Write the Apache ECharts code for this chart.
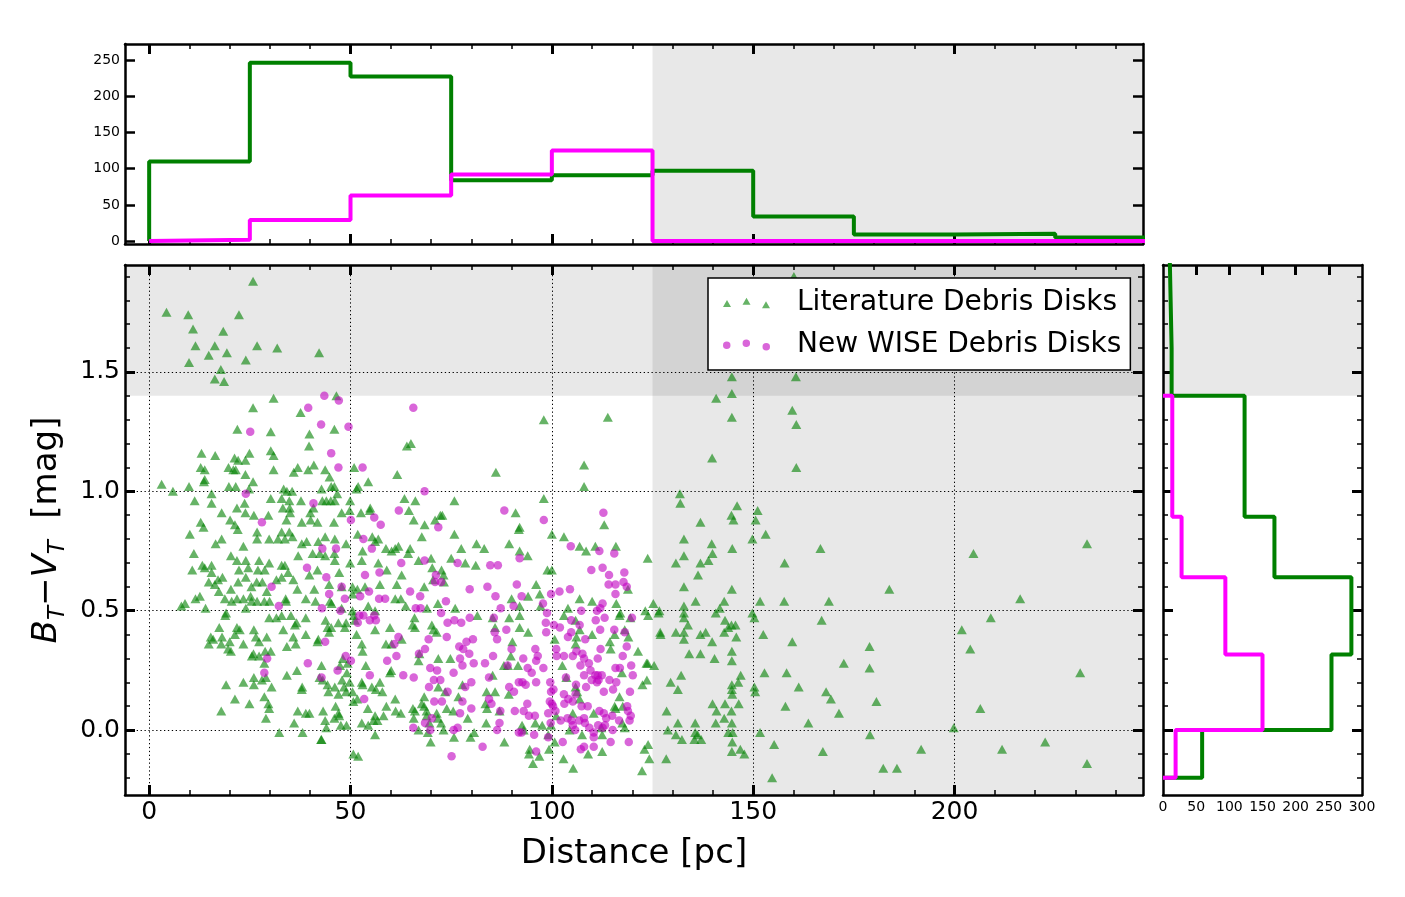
<!DOCTYPE html>
<html>
<head>
<meta charset="utf-8">
<title>Debris disks: B_T - V_T vs distance</title>
<script src="https://cdn.jsdelivr.net/npm/echarts@6.0.0/dist/echarts.min.js"></script>
<style>
html, body { margin: 0; padding: 0; background: #fff; }
#chart { width: 1405px; height: 897px; }
</style>
</head>
<body>
<div id="chart"></div>
<script>
// literature debris disks: [distance pc, B_T - V_T mag]
var litPoints = [
[25.8,1.88],[4.3,1.75],[9.7,1.74],[22.3,1.74],[10.9,1.68],[18.4,1.67],[11.5,1.61],[16.3,1.61],[26.8,1.61],[31.8,1.60],[19.3,1.58],[42.2,1.58],[14.8,1.57],[24.0,1.55],[9.9,1.54],[17.8,1.51],[16.3,1.47],[18.6,1.46],[46.5,1.40],[30.9,1.39],[25.8,1.35],[37.6,1.33],[21.9,1.26],[30.2,1.25],[39.8,1.24],[46.0,1.26],[39.7,1.19],[65.0,1.20],[64.0,1.19],[13.0,1.16],[16.4,1.15],[30.2,1.17],[30.9,1.15],[24.9,1.16],[21.2,1.14],[22.1,1.13],[23.9,1.13],[12.8,1.10],[13.8,1.09],[19.7,1.10],[20.9,1.09],[21.5,1.09],[30.9,1.09],[36.9,1.10],[35.9,1.08],[39.5,1.09],[40.9,1.11],[43.7,1.09],[44.8,1.06],[50.9,1.10],[61.6,1.07],[23.9,1.07],[13.8,1.05],[13.6,1.04],[25.8,1.04],[54.4,1.04],[51.9,1.02],[3.1,1.03],[5.9,1.00],[9.9,1.02],[19.8,1.02],[21.5,1.02],[24.8,1.01],[33.4,1.01],[34.2,1.00],[35.5,1.00],[42.8,1.01],[45.2,1.02],[46.0,1.02],[46.7,0.99],[51.5,1.01],[15.5,0.99],[11.3,0.96],[15.5,0.95],[23.7,0.95],[30.2,0.97],[32.9,0.97],[34.8,0.96],[37.7,0.96],[43.0,0.96],[44.0,0.96],[45.1,0.96],[46.1,0.96],[49.9,0.96],[63.4,0.97],[66.1,0.96],[75.8,0.96],[21.8,0.93],[33.2,0.93],[34.9,0.93],[40.8,0.93],[54.9,0.93],[64.5,0.92],[18.0,0.91],[23.9,0.91],[26.0,0.90],[29.6,0.90],[35.0,0.91],[40.0,0.91],[47.8,0.91],[49.8,0.92],[52.6,0.91],[54.8,0.92],[12.8,0.87],[20.1,0.88],[34.1,0.88],[37.9,0.87],[40.1,0.88],[41.8,0.87],[45.9,0.87],[65.7,0.88],[68.4,0.86],[72.3,0.90],[72.8,0.90],[71.0,0.88],[21.3,0.86],[13.5,0.85],
[10.1,0.82],[22.0,0.84],[26.8,0.83],[26.8,0.80],[32.9,0.83],[34.8,0.83],[35.6,0.81],[32.0,0.80],[29.8,0.80],[33.7,0.80],[16.5,0.78],[18.0,0.80],[37.9,0.78],[39.1,0.79],[42.0,0.79],[43.7,0.81],[46.1,0.80],[48.9,0.78],[51.8,0.82],[55.4,0.81],[56.9,0.80],[56.1,0.79],[61.9,0.77],[61.1,0.76],[60.2,0.75],[64.8,0.76],[67.7,0.81],[75.8,0.82],[77.5,0.76],[11.1,0.74],[23.4,0.77],[40.6,0.74],[42.4,0.74],[46.0,0.74],[37.0,0.73],[43.7,0.73],[46.1,0.71],[53.0,0.75],[58.8,0.76],[64.3,0.74],[66.9,0.71],[70.0,0.72],[75.0,0.72],[20.3,0.73],[21.8,0.71],[24.0,0.71],[27.3,0.71],[28.7,0.67],[27.0,0.67],[29.8,0.70],[32.9,0.69],[33.7,0.69],[13.2,0.69],[15.5,0.69],[13.8,0.68],[10.7,0.67],[15.5,0.66],[24.6,0.68],[22.3,0.67],[34.5,0.66],[39.8,0.65],[41.8,0.67],[47.2,0.66],[49.9,0.70],[52.8,0.71],[56.9,0.70],[59.0,0.67],[62.7,0.65],[70.3,0.68],[72.6,0.67],[73.1,0.65],[78.5,0.70],
[14.8,0.62],[17.1,0.63],[18.2,0.64],[16.3,0.61],[17.3,0.58],[20.3,0.59],[22.1,0.62],[24.0,0.64],[25.4,0.60],[26.7,0.62],[28.1,0.62],[31.6,0.63],[29.2,0.58],[32.9,0.64],[35.8,0.63],[36.8,0.59],[41.0,0.59],[44.7,0.61],[47.8,0.60],[50.5,0.60],[51.7,0.59],[53.6,0.60],[57.3,0.61],[61.5,0.61],[68.3,0.60],[70.5,0.63],[73.2,0.62],
[8.0,0.52],[8.9,0.53],[11.5,0.55],[12.6,0.56],[14.0,0.51],[18.8,0.55],[20.5,0.54],[21.8,0.55],[23.4,0.55],[25.2,0.56],[26.8,0.54],[25.4,0.54],[28.6,0.54],[29.9,0.54],[33.9,0.55],[34.0,0.54],[24.0,0.51],[19.1,0.49],[18.9,0.48],[38.9,0.55],[41.3,0.54],[44.9,0.54],[45.3,0.53],[47.8,0.51],[50.5,0.57],[50.5,0.50],[54.4,0.52],[56.1,0.50],[61.1,0.55],[62.5,0.55],[63.7,0.52],[69.0,0.51],[71.7,0.53],[76.0,0.51],
[29.8,0.47],[31.6,0.47],[32.9,0.48],[35.2,0.48],[36.2,0.44],[38.9,0.47],[33.3,0.42],[36.6,0.45],[17.4,0.43],[21.8,0.43],[22.5,0.42],[26.0,0.42],[21.3,0.40],[15.3,0.39],[15.9,0.38],[14.8,0.36],[18.1,0.39],[17.9,0.36],[20.0,0.37],[19.6,0.34],[20.3,0.33],[23.4,0.36],[26.5,0.39],[27.3,0.37],[29.2,0.39],[34.2,0.35],[36.4,0.36],[35.8,0.39],[38.9,0.40],[41.8,0.37],[42.0,0.38],[43.8,0.46],[44.3,0.43],[44.7,0.41],[45.2,0.43],[47.0,0.45],[48.6,0.43],[48.9,0.45],[51.1,0.46],[50.8,0.48],[51.5,0.40],[52.8,0.36],[53.0,0.33],[56.1,0.42],[59.8,0.43],[58.8,0.36],[60.2,0.36],[62.7,0.38],[65.9,0.47],[66.0,0.43],[65.4,0.44],[70.2,0.44],[70.6,0.42],[71.4,0.41],[71.8,0.30],[74.8,0.30],[66.9,0.29],[67.1,0.32],
[25.5,0.31],[25.9,0.32],[27.3,0.31],[28.6,0.28],[28.8,0.33],[30.2,0.33],[19.1,0.19],[21.3,0.13],[17.9,0.08],[24.9,0.11],[23.4,0.20],[26.0,0.22],[26.0,0.19],[28.0,0.21],[30.4,0.18],[29.0,0.22],[28.6,0.14],[29.6,0.11],[29.8,0.09],[29.0,0.05],[34.2,0.23],[36.7,0.25],[38.0,0.18],[37.9,0.17],[36.9,0.08],[38.9,0.07],[39.8,0.07],[36.0,0.03],[32.3,-0.01],[38.1,-0.01],[42.7,-0.04],[42.8,-0.04],[43.2,0.08],[42.8,0.27],[42.3,0.22],[43.1,0.21],[44.3,0.19],[44.5,0.16],[46.1,0.18],[47.0,0.15],[47.9,0.21],[48.4,0.18],[48.9,0.16],[49.1,0.24],[49.8,0.20],[47.4,0.27],[48.1,0.30],[49.3,0.28],[46.3,0.10],[47.0,0.07],[47.2,0.06],[43.7,0.04],[44.0,0.01],[46.0,0.05],[47.6,0.02],[49.0,0.02],[50.5,0.16],[50.7,0.12],[51.7,0.13],[52.8,0.20],[53.0,0.19],[53.8,0.27],[55.3,0.18],[57.3,0.20],[57.9,0.16],[56.3,0.17],[54.3,0.09],[56.1,0.06],[56.7,0.04],[55.7,0.04],[58.2,0.06],[52.8,0.03],[54.4,0.02],[50.7,-0.10],[51.9,-0.11],[56.1,-0.02],[58.9,0.10],[61.1,0.13],[61.2,0.08],[62.5,0.07],[60.1,0.25],[59.8,0.24],[65.5,0.09],[66.0,0.08],[65.7,0.05],[67.7,0.11],[68.3,0.10],[68.9,0.08],[68.9,0.06],[69.6,0.03],[71.4,0.07],[71.7,0.05],[72.5,0.03],[73.9,0.09],[75.5,0.08],[69.2,-0.01],[66.9,0.00],[69.9,-0.05],[73.1,0.00],[75.7,-0.03],[71.8,0.18],[73.5,0.16],[76.8,0.14],[68.3,0.14],[77.8,0.19],
[98.0,1.30],[113.9,1.31],[86.1,1.08],[108.0,1.11],[108.0,1.02],[98.0,0.97],[91.0,0.91],[92.0,0.85],[113.0,0.86],[131.8,0.99],[131.9,0.95],[146.0,0.94],[144.6,0.90],[145.1,0.88],[151.1,0.92],[150.6,0.88],[136.9,0.87],[139.8,1.14],[144.7,1.48],[144.7,1.41],[140.8,1.39],[144.7,1.31],[159.7,1.34],[160.7,1.28],[160.6,1.48],[160.7,1.10],[160.1,1.90],
[91.8,0.84],[100.0,0.82],[103.0,0.81],[81.3,0.78],[83.2,0.76],[89.4,0.78],[92.0,0.75],[94.0,0.73],[106.9,0.77],[108.5,0.75],[110.8,0.77],[115.9,0.77],[123.8,0.72],[81.1,0.69],[98.9,0.67],[100.0,0.67],[96.1,0.61],[94.1,0.56],[97.0,0.57],[90.0,0.55],[92.0,0.52],[97.2,0.52],[106.9,0.55],[110.0,0.54],[116.0,0.53],[118.9,0.59],[81.5,0.48],[85.3,0.47],[89.4,0.47],[92.0,0.48],[85.9,0.43],[92.0,0.43],[94.1,0.41],[103.0,0.48],[104.0,0.51],[105.9,0.46],[106.9,0.42],[106.1,0.39],[110.0,0.40],[105.9,0.36],[100.7,0.38],[114.4,0.37],[115.6,0.40],[116.8,0.48],[119.0,0.39],[117.0,0.49],[118.1,0.42],[114.6,0.34],[121.4,0.33],[123.8,0.28],[125.4,0.27],[119.5,0.47],[123.2,0.50],[123.9,0.48],[125.2,0.53],[90.2,0.37],[89.8,0.31],[88.1,0.27],[89.1,0.27],[91.6,0.27],[85.3,0.23],[83.8,0.16],[85.9,0.16],[89.3,0.15],[83.5,0.11],[83.9,0.09],[87.0,0.08],[83.7,0.03],[79.1,0.05],[80.7,-0.01],[79.8,-0.03],[88.2,-0.05],[92.6,0.02],[93.0,0.00],[95.9,0.03],[97.6,0.02],[99.1,-0.02],[99.3,-0.08],[94.5,-0.08],[94.3,-0.10],[96.9,-0.11],[95.3,-0.14],[102.9,-0.12],[105.3,-0.16],[109.0,-0.10],[112.5,-0.09],[102.6,0.27],[103.6,0.22],[105.9,0.18],[106.3,0.16],[106.9,0.13],[110.4,0.07],[112.3,0.01],[112.5,-0.02],[115.6,0.10],[115.8,0.09],[116.8,0.14],[117.4,0.24],[117.6,0.10],[118.1,0.01],[117.5,0.03],[104.4,0.00],[105.2,0.07],[107.5,-0.02],[101.1,0.06],[99.8,0.02],[100.7,-0.05],[123.0,-0.08],[123.9,-0.06],[124.2,-0.12],[122.4,-0.17],[123.5,0.28],[122.5,0.19],[123.6,0.21],
[132.8,0.80],[139.7,0.78],[139.9,0.74],[144.8,0.76],[149.8,0.80],[153.1,0.82],[130.8,0.70],[132.8,0.73],[136.9,0.70],[138.9,0.71],[136.3,0.65],[157.8,0.70],[132.8,0.60],[144.7,0.59],[135.7,0.54],[142.8,0.54],[151.7,0.54],[157.7,0.54],[132.8,0.52],[126.7,0.50],[126.5,0.49],[132.8,0.49],[141.7,0.51],[140.7,0.49],[149.8,0.49],[150.3,0.47],[132.8,0.47],[133.8,0.44],[143.0,0.46],[143.8,0.43],[144.6,0.44],[145.6,0.44],[126.9,0.41],[127.0,0.40],[130.8,0.41],[132.8,0.41],[132.8,0.38],[136.9,0.40],[138.2,0.41],[139.8,0.37],[142.8,0.41],[145.8,0.39],[152.5,0.40],[159.7,0.37],[134.1,0.32],[136.9,0.32],[140.4,0.30],[144.7,0.33],[144.7,0.29],[132.1,0.23],[129.5,0.20],[131.3,0.17],[146.9,0.23],[146.3,0.20],[144.7,0.19],[144.7,0.17],[144.8,0.15],[150.3,0.18],[150.5,0.16],[152.8,0.24],[158.3,0.24],[161.3,0.18],[139.9,0.11],[140.9,0.08],[143.0,0.11],[144.6,0.08],[146.4,0.11],[142.8,0.05],[140.7,0.03],[144.7,0.03],[158.0,0.10],[128.5,0.08],[135.6,0.03],[131.3,0.03],[128.8,0.00],[130.8,-0.02],[132.3,-0.04],[135.6,-0.01],[136.2,-0.02],[137.1,-0.04],[135.4,-0.04],[143.8,-0.01],[144.9,-0.01],[151.7,-0.01],[144.8,-0.05],[144.7,-0.09],[146.8,-0.08],[147.8,-0.10],[155.2,-0.06],[128.4,-0.12],[154.7,-0.20],
[166.7,0.76],[204.7,0.74],[232.9,0.78],[183.8,0.59],[168.8,0.54],[216.3,0.55],[167.0,0.46],[209.0,0.47],[201.8,0.42],[203.9,0.34],[178.9,0.35],[172.5,0.28],[178.9,0.26],[231.2,0.24],[168.1,0.16],[169.3,0.13],[180.6,0.12],[171.3,0.07],[206.4,0.09],[163.7,0.03],[199.8,0.01],[179.0,-0.02],[167.3,-0.09],[191.7,-0.08],[211.8,-0.08],[222.5,-0.05],[182.3,-0.16],[185.7,-0.16],[232.9,-0.14]
];

// new WISE debris disks: [distance pc, B_T - V_T mag]
var wisePoints = [
[43.5,1.40],[47.1,1.38],[39.5,1.35],[65.6,1.35],[25.1,1.25],[42.7,1.28],[49.5,1.27],[45.2,1.16],[47.0,1.10],[53.0,1.10],[68.4,1.00],[24.0,0.99],[40.8,0.95],[28.0,0.87],[50.1,0.88],[55.9,0.89],[57.5,0.86],[62.0,0.92],[71.8,0.85],
[53.2,0.80],[55.3,0.76],[43.0,0.76],[46.4,0.76],[62.6,0.70],[68.4,0.71],[76.6,0.70],[39.2,0.68],[44.0,0.64],[53.6,0.65],[57.2,0.66],[71.2,0.65],[71.0,0.62],[72.5,0.62],[30.4,0.60],[47.8,0.60],[44.7,0.57],[54.6,0.58],[52.4,0.56],[48.6,0.55],[57.1,0.55],[58.6,0.55],[64.8,0.58],[67.3,0.56],[73.7,0.54],[32.2,0.52],[42.9,0.51],[47.5,0.50],[66.2,0.51],[67.4,0.51],[72.5,0.49],[52.2,0.48],[53.2,0.48],[51.8,0.45],[54.8,0.46],[55.9,0.48],[56.3,0.46],[74.1,0.45],[75.8,0.46],[77.5,0.45],[61.9,0.39],[60.9,0.36],[73.9,0.39],[69.4,0.38],[43.7,0.37],[77.0,0.35],[78.0,0.34],[68.5,0.34],[67.0,0.32],[29.3,0.30],[48.8,0.31],[50.1,0.29],[61.4,0.31],[59.1,0.29],[77.2,0.30],[77.8,0.27],[39.4,0.28],[69.8,0.26],[71.5,0.25],[28.6,0.24],[46.8,0.25],[42.8,0.22],[54.8,0.23],[63.1,0.23],[65.7,0.22],[70.7,0.21],[72.3,0.21],[75.6,0.24],[69.5,0.18],[74.1,0.16],[53.4,0.13],[70.8,0.12],[72.7,0.12],[77.8,0.12],[70.2,0.05],[77.2,0.07],[68.5,0.03],[65.6,0.01],[69.8,0.00],[75.6,0.00],[76.6,0.01],[75.1,-0.11],
[88.2,0.92],[98.0,0.88],[112.8,0.91],
[104.7,0.77],[111.8,0.75],[115.5,0.74],[92.0,0.72],[84.7,0.69],[86.6,0.69],[109.8,0.67],[112.6,0.68],[114.2,0.65],[118.0,0.66],[91.3,0.61],[84.0,0.60],[79.6,0.59],[114.1,0.61],[115.8,0.61],[117.8,0.62],[118.6,0.60],[115.8,0.57],[104.5,0.59],[101.9,0.58],[99.8,0.57],[86.0,0.56],[92.5,0.56],[90.5,0.52],[97.8,0.53],[87.3,0.51],[79.6,0.47],[98.8,0.49],[107.3,0.50],[111.2,0.50],[112.0,0.51],[112.6,0.53],[85.6,0.47],[88.7,0.42],[85.8,0.41],[86.4,0.38],[119.9,0.47],[113.1,0.47],[110.9,0.46],[98.5,0.45],[100.5,0.44],[102.0,0.43],[104.8,0.46],[106.9,0.44],[104.8,0.41],[112.0,0.42],[115.5,0.42],[118.1,0.41],[98.6,0.41],[104.0,0.39],[108.3,0.38],[80.4,0.38],[78.8,0.37],[79.5,0.32],[80.6,0.28],[90.0,0.34],[95.9,0.34],[96.5,0.31],[101.1,0.34],[101.2,0.31],[103.0,0.31],[105.2,0.31],[106.1,0.33],[107.6,0.32],[108.0,0.30],[111.4,0.30],[112.1,0.34],[118.6,0.35],[117.6,0.31],[92.9,0.30],[96.1,0.29],[85.4,0.31],[83.4,0.28],[89.0,0.27],[94.0,0.26],[95.0,0.24],[97.9,0.26],[107.1,0.27],[109.2,0.28],[109.6,0.25],[115.8,0.26],[119.7,0.27],[108.0,0.23],[109.9,0.21],[111.6,0.21],[112.4,0.23],[116.9,0.26],[120.1,0.23],[84.4,0.22],[91.8,0.20],[92.7,0.20],[96.1,0.20],[93.5,0.19],[80.0,0.20],[78.5,0.18],[89.4,0.18],[90.6,0.16],[99.6,0.20],[100.4,0.17],[103.5,0.22],[106.0,0.19],[108.5,0.18],[110.8,0.23],[114.3,0.21],[116.0,0.20],[115.2,0.17],[112.9,0.16],[119.4,0.16],[84.4,0.13],[85.0,0.11],[80.0,0.09],[87.2,0.08],[93.9,0.11],[90.8,0.08],[93.0,0.08],[95.8,0.06],[94.3,0.06],[99.8,0.16],[99.5,0.12],[100.0,0.11],[100.3,0.10],[99.1,0.07],[100.9,0.08],[103.0,0.15],[103.1,0.11],[104.1,0.13],[105.2,0.12],[105.9,0.15],[107.4,0.10],[108.9,0.10],[111.4,0.23],[111.2,0.20],[111.8,0.08],[112.9,0.07],[113.5,0.05],[113.2,0.02],[115.0,0.06],[116.7,0.04],[118.7,0.10],[118.9,0.08],[119.6,0.06],[119.3,0.04],[86.4,0.00],[87.0,0.03],[91.8,-0.01],[92.5,-0.01],[95.6,-0.02],[99.7,0.03],[102.2,0.04],[99.1,-0.03],[103.9,0.05],[104.9,0.04],[105.2,0.02],[105.8,0.00],[106.8,0.04],[108.0,0.05],[108.2,0.03],[109.3,0.01],[110.4,-0.01],[110.4,-0.03],[111.5,0.02],[115.1,0.00],[112.6,0.01],[114.6,-0.05],[119.1,-0.05],[102.7,-0.05],[108.0,-0.07],[107.2,-0.08],[110.4,-0.07],[96.1,-0.09],[82.8,-0.07]
];

// histogram of distances (bins of 25 pc)
var distEdges = [0, 25, 50, 75, 100, 125, 150, 175, 200, 225, 250];
var litDistCounts = [110, 246, 227, 84, 91, 97, 34, 9, 10, 5];
var wiseDistCounts = [2, 29, 63, 92, 125, 0, 0, 0, 0, 0];

// histogram of colours (uneven bins); the WISE one stops at 1.4
var colorEdges = [-0.2, 0.0, 0.317, 0.64, 0.893, 1.4, 1.6, 2.0];
var litColorCounts = [59, 254, 284, 168, 123, 13, 10];
var wiseColorEdges = [-0.2, 0.0, 0.317, 0.64, 0.893, 1.4];
var wiseColorCounts = [19, 150, 94, 28, 14];

// tick positions
var distTicks = [0, 50, 100, 150, 200];
var distMinorTicks = [0, 10, 20, 30, 40, 50, 60, 70, 80, 90, 100, 110, 120, 130, 140, 150, 160, 170, 180, 190, 200, 210, 220, 230, 240];
var colorTicks = [0, 0.5, 1.0, 1.5];
var colorMinorTicks = [-0.2, -0.1, 0, 0.1, 0.2, 0.3, 0.4, 0.5, 0.6, 0.7, 0.8, 0.9, 1.0, 1.1, 1.2, 1.3, 1.4, 1.5, 1.6, 1.7, 1.8, 1.9];
var countTicks = [0, 50, 100, 150, 200, 250];
var countTicksSide = [0, 50, 100, 150, 200, 250, 300];
var countTicksTop = [50, 100, 150, 200, 250];

var X_MIN = -6, X_MAX = 246.8;
var Y_MIN = -0.272, Y_MAX = 1.948;
var N_MIN = -4, N_MAX = 272;
var DIST_CUT = 125, COLOR_CUT = 1.4;

var FONT = 'DejaVu Sans';
var SHADE = { color: '#000', opacity: 0.092 };

// outline of a step histogram; vertical=true puts counts on x
function stepOutline(edges, counts, vertical){
	var pts = [];
	var n = counts.length;
	pts.push(vertical ? [0, edges[0]] : [edges[0], 0]);
	for (var i = 0; i < n; i++){
		if (vertical){
			pts.push([counts[i], edges[i]]);
			pts.push([counts[i], edges[i + 1]]);
		} else {
			pts.push([edges[i], counts[i]]);
			pts.push([edges[i + 1], counts[i]]);
		}
	}
	pts.push(vertical ? [0, edges[n]] : [edges[n], 0]);
	return pts;
}

// one axis: spine and/or inside ticks at given values
function makeAxis(grid, pos, min, max, ticks, tickLen, tickWidth, showLine, label){
	var axis = {
		type: 'value', gridIndex: grid, position: pos, min: min, max: max,
		splitLine: { show: false },
		axisLine: { show: showLine, onZero: false, lineStyle: { color: '#000', width: 2.5 } },
		axisTick: { show: !!ticks, inside: true, length: tickLen, customValues: ticks || [],
			lineStyle: { color: '#000', width: tickWidth } },
		axisLabel: { show: false }
	};
	if (label){
		axis.axisLabel = {
			show: true, customValues: label.values, margin: label.margin,
			fontSize: label.size, fontFamily: FONT, color: '#000',
			formatter: label.formatter
		};
	}
	return axis;
}

function histSeries(name, xi, yi, data, color){
	return {
		name: name, type: 'line', xAxisIndex: xi, yAxisIndex: yi,
		data: data, showSymbol: false, symbol: 'none', z: 3,
		lineStyle: { color: color, width: 4 },
		itemStyle: { color: color },
		silent: true
	};
}

var fmt1 = function(v){ return v.toFixed(1); };
var fmt0 = function(v){ return String(Math.round(v)); };

var xAxes = [
	// main grid (0)
	makeAxis(0, 'bottom', X_MIN, X_MAX, distTicks, 10, 3, true,
		{ values: distTicks, margin: 5, size: 25, formatter: fmt0 }),
	makeAxis(0, 'bottom', X_MIN, X_MAX, distMinorTicks, 5, 1.5, false),
	makeAxis(0, 'top', X_MIN, X_MAX, distTicks, 10, 3, true),
	makeAxis(0, 'top', X_MIN, X_MAX, distMinorTicks, 5, 1.5, false),
	// top histogram (1)
	makeAxis(1, 'bottom', X_MIN, X_MAX, distTicks, 10, 3, true),
	makeAxis(1, 'bottom', X_MIN, X_MAX, distMinorTicks, 5, 1.5, false),
	makeAxis(1, 'top', X_MIN, X_MAX, distTicks, 10, 3, true),
	makeAxis(1, 'top', X_MIN, X_MAX, distMinorTicks, 5, 1.5, false),
	// side histogram (2)
	makeAxis(2, 'bottom', 0, 300, null, 0, 0, true,
		{ values: countTicksSide, margin: 5, size: 14, formatter: fmt0 }),
	makeAxis(2, 'top', 0, 300, countTicksTop, 10, 3, true)
];
xAxes[0].name = 'Distance [pc]';
xAxes[0].nameLocation = 'middle';
xAxes[0].nameGap = 42;
xAxes[0].nameTextStyle = { fontSize: 34, fontFamily: FONT, color: '#000' };

var yAxes = [
	makeAxis(0, 'left', Y_MIN, Y_MAX, colorTicks, 10, 3, true,
		{ values: colorTicks, margin: 5, size: 25, formatter: fmt1 }),
	makeAxis(0, 'left', Y_MIN, Y_MAX, colorMinorTicks, 5, 1.5, false),
	makeAxis(0, 'right', Y_MIN, Y_MAX, colorTicks, 10, 3, true),
	makeAxis(0, 'right', Y_MIN, Y_MAX, colorMinorTicks, 5, 1.5, false),
	makeAxis(1, 'left', N_MIN, N_MAX, countTicks, 10, 2.5, true,
		{ values: countTicks, margin: 5, size: 14, formatter: fmt0 }),
	makeAxis(1, 'right', N_MIN, N_MAX, countTicks, 10, 2.5, true),
	makeAxis(2, 'left', Y_MIN, Y_MAX, colorTicks, 10, 3, true),
	makeAxis(2, 'left', Y_MIN, Y_MAX, colorMinorTicks, 5, 1.5, false),
	makeAxis(2, 'right', Y_MIN, Y_MAX, colorTicks, 10, 3, true),
	makeAxis(2, 'right', Y_MIN, Y_MAX, colorMinorTicks, 5, 1.5, false)
];
yAxes[0].name = '{i|B}{s|T}{o|\u2212}{i|V}{s|T}{r|  [mag]}';
yAxes[0].nameLocation = 'middle';
yAxes[0].nameRotate = 90;
yAxes[0].nameGap = 49;
yAxes[0].nameTextStyle = {
	fontFamily: FONT, color: '#000', fontSize: 34,
	rich: {
		i: { fontSize: 34, fontStyle: 'italic', fontFamily: FONT, lineHeight: 44, color: '#000' },
		s: { fontSize: 23, fontStyle: 'italic', fontFamily: FONT, lineHeight: 23, verticalAlign: 'bottom', color: '#000' },
		o: { fontSize: 34, fontFamily: FONT, lineHeight: 44, color: '#000' },
		r: { fontSize: 34, fontFamily: FONT, lineHeight: 44, color: '#000' }
	}
};

// dotted grid of the main panel
var gridLines = [];
for (var i = 0; i < distTicks.length; i++){ gridLines.push({ xAxis: distTicks[i] }); }
for (var j = 0; j < colorTicks.length; j++){ gridLines.push({ yAxis: colorTicks[j] }); }

var triIcon = 'path://M0 9.3L4 2.3L8 9.3ZM19.5 7L23.5 0L27.5 7ZM39 10.7L43 3.7L47 10.7Z';
var dotIcon = 'path://M0 5.7A3.7 3.7 0 1 0 7.4 5.7A3.7 3.7 0 1 0 0 5.7ZM19.3 3.7A3.7 3.7 0 1 0 26.7 3.7A3.7 3.7 0 1 0 19.3 3.7ZM39 7A3.7 3.7 0 1 0 46.4 7A3.7 3.7 0 1 0 39 7Z';

var litSeries = {
	name: 'Literature Debris Disks', type: 'scatter', xAxisIndex: 0, yAxisIndex: 0,
	data: litPoints, symbol: 'triangle', symbolSize: [10, 9], z: 3,
	itemStyle: { color: '#008000', opacity: 0.6 },
	markArea: {
		silent: true, itemStyle: SHADE,
		data: [
			[{ xAxis: DIST_CUT, yAxis: Y_MIN }, { xAxis: X_MAX, yAxis: Y_MAX }],
			[{ xAxis: X_MIN, yAxis: COLOR_CUT }, { xAxis: X_MAX, yAxis: Y_MAX }]
		]
	},
	markLine: {
		silent: true, symbol: ['none', 'none'], z: 1, label: { show: false },
		lineStyle: { color: '#000', width: 1, type: [1.3, 2.6] },
		emphasis: { disabled: true },
		data: gridLines
	}
};
var wiseSeries = {
	name: 'New WISE Debris Disks', type: 'scatter', xAxisIndex: 0, yAxisIndex: 0,
	data: wisePoints, symbol: 'circle', symbolSize: 8.5, z: 4,
	itemStyle: { color: '#bf00bf', opacity: 0.6 }
};

var topLit = histSeries('lit dist', 4, 4, stepOutline(distEdges, litDistCounts, false), '#008000');
topLit.markArea = { silent: true, itemStyle: SHADE,
	data: [[{ xAxis: DIST_CUT, yAxis: N_MIN }, { xAxis: X_MAX, yAxis: N_MAX }]] };
var topWise = histSeries('wise dist', 4, 4, stepOutline(distEdges, wiseDistCounts, false), '#ff00ff');

var sideLit = histSeries('lit color', 8, 6, stepOutline(colorEdges, litColorCounts, true), '#008000');
sideLit.markArea = { silent: true, itemStyle: SHADE,
	data: [[{ xAxis: 0, yAxis: COLOR_CUT }, { xAxis: 300, yAxis: Y_MAX }]] };
var sideWise = histSeries('wise color', 8, 6, stepOutline(wiseColorEdges, wiseColorCounts, true), '#ff00ff');

var option = {
	animation: false,
	backgroundColor: '#fff',
	textStyle: { fontFamily: FONT },
	grid: [
		{ left: 125, top: 265, width: 1018, height: 530, containLabel: false, outerBoundsMode: 'none' },
		{ left: 125, top: 44, width: 1018, height: 200, containLabel: false, outerBoundsMode: 'none' },
		{ left: 1163, top: 265, width: 199, height: 530, containLabel: false, outerBoundsMode: 'none' }
	],
	legend: {
		left: 708, top: 278, orient: 'vertical',
		itemWidth: 47, itemHeight: 11, itemGap: 14,
		padding: [11, 9, 11, 15],
		backgroundColor: '#fff', borderColor: '#000', borderWidth: 1.5, borderRadius: 0,
		selectedMode: false, z: 20,
		textStyle: { fontSize: 28, fontFamily: FONT, color: '#000', padding: [0, 0, 0, 22] },
		data: [
			{ name: 'Literature Debris Disks', icon: triIcon, itemStyle: { color: '#008000', opacity: 0.6 } },
			{ name: 'New WISE Debris Disks', icon: dotIcon, itemStyle: { color: '#bf00bf', opacity: 0.6 } }
		]
	},
	xAxis: xAxes,
	yAxis: yAxes,
	series: [litSeries, wiseSeries, topLit, topWise, sideLit, sideWise]
};

var myChart = echarts.init(document.getElementById('chart'));
myChart.setOption(option, true);
</script>
</body>
</html>
